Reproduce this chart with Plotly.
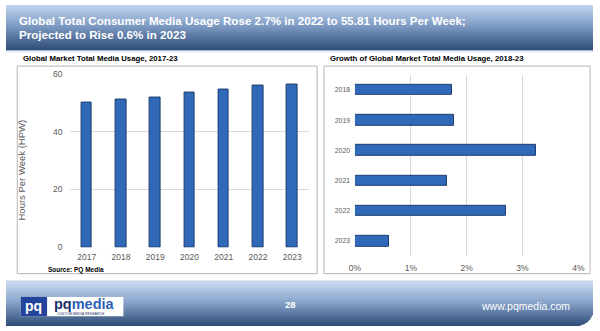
import base64
import plotly.graph_objects as go

# ---- data ----
years_usage = ["2017", "2018", "2019", "2020", "2021", "2022", "2023"]
hours_per_week = [49.99, 50.86, 51.78, 53.46, 54.34, 55.81, 56.14]

years_growth = ["2018", "2019", "2020", "2021", "2022", "2023"]
growth_pct = [0.0173, 0.0178, 0.0325, 0.0165, 0.027, 0.006]

usage_ticks = [0, 20, 40, 60]
growth_ticks = [0, 0.01, 0.02, 0.03, 0.04]

W, H = 600, 331
FONT = "Liberation Sans, Arial, sans-serif"
BAR_FILL = "#3169b9"
BAR_LINE = "#1d3d6e"
GRID = "#d9d9d9"
TICK = "#595959"


def px(x):
    return x / W


def py(y):
    return 1 - y / H


def svg_uri(svg):
    return "data:image/svg+xml;base64," + base64.b64encode(svg.encode()).decode()


header_svg = """<svg xmlns='http://www.w3.org/2000/svg' width='600' height='49' viewBox='0 0 600 49' preserveAspectRatio='none'>
<defs><linearGradient id='g' x1='0' y1='0' x2='0' y2='1'>
<stop offset='0' stop-color='#c3d5ef'/><stop offset='0.45' stop-color='#7f9cc4'/><stop offset='1' stop-color='#2c4a75'/>
</linearGradient></defs><rect width='600' height='47' fill='url(#g)'/>
<rect y='47' width='600' height='2' fill='#dfe8f5'/></svg>"""

footer_svg = """<svg xmlns='http://www.w3.org/2000/svg' width='600' height='47' viewBox='0 0 600 47' preserveAspectRatio='none'>
<defs><linearGradient id='g' x1='0' y1='0' x2='0' y2='1'>
<stop offset='0' stop-color='#cbdaf1'/><stop offset='0.45' stop-color='#8aa5cb'/><stop offset='1' stop-color='#2e4c77'/>
</linearGradient></defs>
<rect width='600' height='1.2' fill='#9aa9bd'/>
<path d='M0 1.2 H600 V35 Q596 45 586 47 H0 Z' fill='url(#g)'/></svg>"""

fig = go.Figure()

fig.add_trace(go.Bar(
    x=years_usage, y=hours_per_week, width=0.31,
    marker=dict(color=BAR_FILL, line=dict(color=BAR_LINE, width=1)),
    xaxis="x", yaxis="y", showlegend=False, hoverinfo="x+y"))

fig.add_trace(go.Bar(
    x=growth_pct, y=years_growth, orientation="h", width=0.35,
    marker=dict(color=BAR_FILL, line=dict(color=BAR_LINE, width=1)),
    xaxis="x2", yaxis="y2", showlegend=False, hoverinfo="x+y"))

fig.update_layout(
    width=W, height=H,
    margin=dict(l=0, r=0, t=0, b=0),
    paper_bgcolor="white", plot_bgcolor="rgba(0,0,0,0)",
    font=dict(family=FONT, color=TICK),
    bargap=0,
    xaxis=dict(domain=[px(65), px(310)], anchor="y", type="category",
               showgrid=False, zeroline=False, showline=False,
               tickfont=dict(size=8.5, color=TICK), ticks="", ticklabelstandoff=3),
    yaxis=dict(domain=[py(250), py(70.7)], anchor="x", range=[0, 60],
               tickvals=usage_ticks, showgrid=True, gridcolor=GRID, gridwidth=1,
               zeroline=False, showline=False,
               tickfont=dict(size=8.5, color=TICK), ticks="", ticklabelstandoff=6),
    xaxis2=dict(domain=[px(356.7), px(585)], anchor="y2", range=[0, 0.04],
                tickvals=growth_ticks, tickformat=".0%",
                showgrid=True, gridcolor=GRID, gridwidth=1,
                zeroline=False, showline=False,
                tickfont=dict(size=8.5, color=TICK), ticks="", ticklabelstandoff=5),
    yaxis2=dict(domain=[py(259), py(72)], anchor="x2", type="category",
                autorange="reversed", showgrid=False, zeroline=False, showline=False,
                tickfont=dict(size=6.8, color=TICK), ticks="", ticklabelstandoff=4),
)

fig.add_layout_image(dict(source=svg_uri(header_svg), xref="paper", yref="paper",
                          x=0, y=1, sizex=1, sizey=49 / H, sizing="stretch",
                          xanchor="left", yanchor="top", layer="below"))
fig.add_layout_image(dict(source=svg_uri(footer_svg), xref="paper", yref="paper",
                          x=0, y=py(284), sizex=1, sizey=47 / H, sizing="stretch",
                          xanchor="left", yanchor="top", layer="below"))

shapes = []
# panel boxes
for x0, x1 in [(11.5, 318), (325, 597)]:
    shapes.append(dict(type="rect", xref="paper", yref="paper",
                       x0=px(x0), x1=px(x1), y0=py(277), y1=py(63),
                       line=dict(color="#b5b5b5", width=1), fillcolor="white", layer="below"))
# logo
shapes.append(dict(type="rect", xref="paper", yref="paper", x0=px(15), x1=px(120),
                   y0=py(321), y1=py(301), fillcolor="white", line=dict(width=0)))
shapes.append(dict(type="rect", xref="paper", yref="paper", x0=px(15), x1=px(42),
                   y0=py(321), y1=py(301), fillcolor="#23449a", line=dict(width=0)))
fig.update_layout(shapes=shapes)

ann = []
ann.append(dict(text="<b>Global Total Consumer Media Usage Rose 2.7% in 2022 to 55.81 Hours Per Week;</b>",
                x=px(11), y=py(16), xref="paper", yref="paper", xanchor="left", yanchor="middle",
                align="left", showarrow=False, font=dict(size=11.6, color="white", family=FONT)))
ann.append(dict(text="<b>Projected to Rise 0.6% in 2023</b>",
                x=px(11), y=py(30.5), xref="paper", yref="paper", xanchor="left", yanchor="middle",
                align="left", showarrow=False, font=dict(size=11.6, color="white", family=FONT)))
ann.append(dict(text="<b>Global Market Total Media Usage, 2017-23</b>", x=px(15), y=py(55),
                xref="paper", yref="paper", xanchor="left", yanchor="middle", showarrow=False,
                font=dict(size=7.8, color="black", family=FONT)))
ann.append(dict(text="<b>Growth of Global Market Total Media Usage, 2018-23</b>", x=px(329), y=py(55),
                xref="paper", yref="paper", xanchor="left", yanchor="middle", showarrow=False,
                font=dict(size=7.8, color="black", family=FONT)))
ann.append(dict(text="Hours Per Week (HPW)", x=px(16), y=py(170), xref="paper", yref="paper",
                xanchor="center", yanchor="middle", textangle=-90, showarrow=False,
                font=dict(size=9.5, color=TICK, family=FONT)))
ann.append(dict(text="<b>Source: PQ Media</b>", x=px(41), y=py(273), xref="paper", yref="paper",
                xanchor="left", yanchor="middle", showarrow=False,
                font=dict(size=6.5, color="black", family=FONT)))
# footer
ann.append(dict(text="<b>pq</b>", x=px(28.5), y=py(310), xref="paper", yref="paper",
                xanchor="center", yanchor="middle", showarrow=False,
                font=dict(size=14, color="white", family=FONT)))
ann.append(dict(text="<b><span style='color:#1b2f6b'>pq</span><span style='color:#2f5fb3'>media</span></b>",
                x=px(47), y=py(308), xref="paper", yref="paper",
                xanchor="left", yanchor="middle", showarrow=False,
                font=dict(size=14.5, family=FONT)))
ann.append(dict(text="CUSTOM MEDIA RESEARCH", x=px(50), y=py(318.5), xref="paper", yref="paper",
                xanchor="left", yanchor="middle", showarrow=False,
                font=dict(size=3.5, color="#1b2f6b", family=FONT)))
ann.append(dict(text="<b>28</b>", x=px(291), y=py(309), xref="paper", yref="paper",
                xanchor="center", yanchor="middle", showarrow=False,
                font=dict(size=9.5, color="white", family=FONT)))
ann.append(dict(text="www.pqmedia.com", x=px(579), y=py(310), xref="paper", yref="paper",
                xanchor="right", yanchor="middle", showarrow=False,
                font=dict(size=10.5, color="white", family=FONT)))
fig.update_layout(annotations=ann)

fig.write_html("out.html")
